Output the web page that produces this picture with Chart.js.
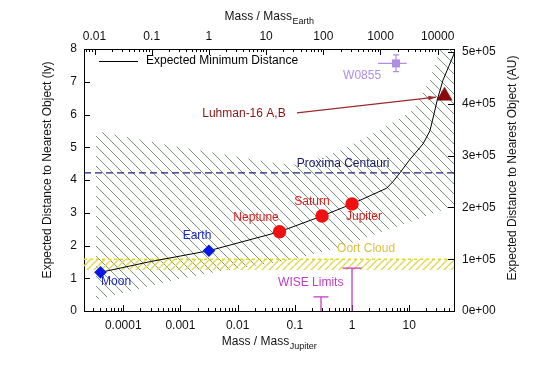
<!DOCTYPE html>
<html><head><meta charset="utf-8">
<script src="https://cdn.jsdelivr.net/npm/chart.js@4/dist/chart.umd.min.js"></script>
<style>html,body{margin:0;padding:0;background:#fff}#wrap{width:540px;height:376px}</style>
</head><body><div id="wrap"><canvas id="c" width="540" height="376"></canvas></div>
<script>
// ---------- data ----------
const LY_TO_AU = 63241.1;
const EARTH_PER_JUPITER = 317.8;
const X_MIN = 2.06e-5, X_MAX = 60.7;
const Y_MAX = 8;

const bottomTickValues = [1e-4, 1e-3, 1e-2, 0.1, 1, 10];
const bottomTickLabels = ['0.0001', '0.001', '0.01', '0.1', '1', '10'];
const topTickValues = [0.01, 0.1, 1, 10, 100, 1000, 10000];
const topTickLabels = ['0.01', '0.1', '1', '10', '100', '1000', '10000'];
const leftTickValues = [0, 1, 2, 3, 4, 5, 6, 7, 8];
const rightTickValues = [0, 1e5, 2e5, 3e5, 4e5, 5e5];
const rightTickLabels = ['0e+00', '1e+05', '2e+05', '3e+05', '4e+05', '5e+05'];

// Expected minimum distance curve (mass in M_Jupiter, distance in ly)
const curveMass = [4.0e-5, 3e-4, 3.15e-3, 0.054, 0.299, 1.0, 4.04, 5.2, 6.9, 10, 17.4, 23, 27, 31, 39, 50, 60.7];
const curveDist = [1.18, 1.51, 1.84, 2.42, 2.90, 3.27, 3.75, 3.95, 4.22, 4.6, 5.1, 5.5, 6.0, 6.45, 7.05, 7.5, 7.85];

// hatched uncertainty band
const bandMass  = [3.34e-5, 7.8e-4, 4.4e-3, 0.0435, 0.123, 0.62, 3.1, 11.7, 23, 34.6, 60.7];
const bandUpper = [5.5, 5.03, 4.82, 4.52, 4.46, 4.9, 5.53, 6.14, 7.05, 8.0, 8.5];
const bandLower = [0.34, 0.95, 1.2, 1.47, 1.62, 1.95, 2.4, 2.75, 2.95, 3.05, 3.24];

// Oort cloud band and line (ly)
const oortLine = 1.58;
const oortBand = [1.25, 1.58];
// Proxima Centauri (ly)
const proximaDist = 4.22;

// objects
const moonEarthNames = ['Moon', 'Earth'];
const moonEarthMass = [4.0e-5, 3.15e-3];
const moonEarthDist = [1.18, 1.84];
const planetNames = ['Neptune', 'Saturn', 'Jupiter'];
const planetMass = [0.054, 0.299, 1.0];
const planetDist = [2.42, 2.90, 3.27];
const luhmanMass = [41.5];
const luhmanDist = [6.57];
const w0855Mass = [5.88], w0855MassLo = [2.85], w0855MassHi = [9.04];
const w0855Dist = [7.56], w0855DistLo = [7.31], w0855DistHi = [7.82];
const wiseMass = [0.287, 1.0];
const wiseDist = [0.43, 1.31];
const arrowFrom = [0.109, 6.05];
const arrowTo = [29.4, 6.53];

// text labels (anchor in data units)
const labelTexts = ['Moon', 'Earth', 'Neptune', 'Saturn', 'Jupiter', 'Proxima Centauri', 'Oort Cloud', 'WISE Limits', 'W0855', 'Luhman-16 A,B'];
const labelMass  = [7.5e-5, 1.95e-3, 0.021, 0.2, 1.62, 0.70, 1.76, 0.19, 1.5, 0.0129];
const labelDist  = [0.885, 2.29, 2.84, 3.33, 2.87, 4.49, 1.89, 0.85, 7.2, 6.02];
const labelColors = ['#1a28c8', '#1a28c8', '#dd1c1c', '#dd1c1c', '#dd1c1c', '#1a1a6e', '#dcc048', '#c43cc4', '#b08ee6', '#8b1414'];

// ---------- chart ----------
const FONT = "'Liberation Sans', Arial, Helvetica, sans-serif";
const canvas = document.getElementById('c');
const ctx0 = canvas.getContext('2d');

function makeHatch(color, size, lw, dir) {
  const c = document.createElement('canvas');
  c.width = size; c.height = size;
  const g = c.getContext('2d');
  g.strokeStyle = color; g.lineWidth = lw; g.beginPath();
  for (const k of [-size, 0, size]) {
    if (dir > 0) { g.moveTo(k, 0); g.lineTo(k + size, size); }
    else { g.moveTo(k + size, 0); g.lineTo(k, size); }
  }
  g.stroke();
  return ctx0.createPattern(c, 'repeat');
}
const greenHatch = makeHatch('#6a8a6c', 10, 0.9, 1);
const yellowHatch = makeHatch('#e2d84e', 7, 1.4, -1);

const xy = (xs, ys) => xs.map((m, i) => ({x: m, y: ys[i]}));

const overlay = {
  id: 'overlay',
  afterDatasetsDraw(chart) {
    const {ctx, chartArea: a, scales} = chart;
    const X = scales.x, Y = scales.y, X2 = scales.x2, Y2 = scales.y2;
    ctx.save();
    // inward ticks
    ctx.strokeStyle = '#000'; ctx.lineWidth = 1;
    ctx.beginPath();
    for (let d = -5; d <= 1; d++) for (let k = 1; k <= 9; k++) {
      const v = k * Math.pow(10, d);
      if (v < X_MIN || v > X_MAX) continue;
      const px = Math.round(X.getPixelForValue(v)) + 0.5;
      const len = k === 1 ? 6 : 3;
      ctx.moveTo(px, a.bottom); ctx.lineTo(px, a.bottom - len);
    }
    for (let d = -3; d <= 4; d++) for (let k = 1; k <= 9; k++) {
      const v = k * Math.pow(10, d);
      if (v < X2.min || v > X2.max) continue;
      const px = Math.round(X2.getPixelForValue(v)) + 0.5;
      const len = k === 1 ? 6 : 3;
      ctx.moveTo(px, a.top); ctx.lineTo(px, a.top + len);
    }
    for (const v of leftTickValues) {
      const py = Math.round(Y.getPixelForValue(v)) + 0.5;
      ctx.moveTo(a.left, py); ctx.lineTo(a.left + 6, py);
    }
    for (const v of rightTickValues) {
      const py = Math.round(Y2.getPixelForValue(v)) + 0.5;
      ctx.moveTo(a.right, py); ctx.lineTo(a.right - 6, py);
    }
    ctx.stroke();

    // W0855 error bars
    ctx.strokeStyle = '#b08ee6'; ctx.lineWidth = 1.2;
    ctx.beginPath();
    for (let i = 0; i < w0855Mass.length; i++) {
      const cx = X.getPixelForValue(w0855Mass[i]), cy = Y.getPixelForValue(w0855Dist[i]);
      const x0 = X.getPixelForValue(w0855MassLo[i]), x1 = X.getPixelForValue(w0855MassHi[i]);
      const y0 = Y.getPixelForValue(w0855DistLo[i]), y1 = Y.getPixelForValue(w0855DistHi[i]);
      ctx.moveTo(x0, cy); ctx.lineTo(x1, cy);
      ctx.moveTo(cx, y0); ctx.lineTo(cx, y1);
      ctx.moveTo(cx - 3, y0); ctx.lineTo(cx + 3, y0);
      ctx.moveTo(cx - 3, y1); ctx.lineTo(cx + 3, y1);
    }
    ctx.stroke();

    // WISE limits
    ctx.strokeStyle = '#c43cc4'; ctx.lineWidth = 1.3;
    ctx.beginPath();
    const capW = [7.5, 9.5];
    for (let i = 0; i < wiseMass.length; i++) {
      const px = X.getPixelForValue(wiseMass[i]);
      const top = Y.getPixelForValue(wiseDist[i]);
      ctx.moveTo(px, a.bottom); ctx.lineTo(px, top);
      ctx.moveTo(px - capW[i], top); ctx.lineTo(px + capW[i], top);
    }
    ctx.stroke();

    // Luhman arrow
    const ax0 = X.getPixelForValue(arrowFrom[0]), ay0 = Y.getPixelForValue(arrowFrom[1]);
    const ax1 = X.getPixelForValue(arrowTo[0]), ay1 = Y.getPixelForValue(arrowTo[1]);
    ctx.strokeStyle = '#9b2a2a'; ctx.fillStyle = '#9b2a2a'; ctx.lineWidth = 1.2;
    ctx.beginPath(); ctx.moveTo(ax0, ay0); ctx.lineTo(ax1, ay1); ctx.stroke();
    const ang = Math.atan2(ay1 - ay0, ax1 - ax0);
    ctx.beginPath();
    ctx.moveTo(ax1, ay1);
    ctx.lineTo(ax1 - 8 * Math.cos(ang - 0.3), ay1 - 8 * Math.sin(ang - 0.3));
    ctx.lineTo(ax1 - 8 * Math.cos(ang + 0.3), ay1 - 8 * Math.sin(ang + 0.3));
    ctx.closePath(); ctx.fill();

    // labels
    ctx.font = '12px ' + FONT;
    ctx.textAlign = 'center'; ctx.textBaseline = 'middle';
    for (let i = 0; i < labelTexts.length; i++) {
      ctx.fillStyle = labelColors[i];
      ctx.fillText(labelTexts[i], X.getPixelForValue(labelMass[i]), Y.getPixelForValue(labelDist[i]));
    }

    // legend
    ctx.strokeStyle = '#000'; ctx.lineWidth = 1;
    ctx.beginPath(); ctx.moveTo(a.left + 15, a.top + 12.5); ctx.lineTo(a.left + 54, a.top + 12.5); ctx.stroke();
    ctx.fillStyle = '#000'; ctx.textAlign = 'left';
    ctx.fillText('Expected Minimum Distance', a.left + 62, a.top + 12);

    // axis titles
    const cxm = (a.left + a.right) / 2;
    function subTitle(main, sub, cx, cy) {
      ctx.font = '12px ' + FONT;
      const w1 = ctx.measureText(main).width;
      ctx.font = '9px ' + FONT;
      const w2 = ctx.measureText(sub).width;
      const sx = cx - (w1 + w2) / 2;
      ctx.textAlign = 'left'; ctx.textBaseline = 'middle'; ctx.fillStyle = '#111';
      ctx.font = '12px ' + FONT; ctx.fillText(main, sx, cy);
      ctx.font = '9px ' + FONT; ctx.fillText(sub, sx + w1 + 0.5, cy + 5);
    }
    subTitle('Mass / Mass', 'Jupiter', cxm, a.bottom + 31);
    subTitle('Mass / Mass', 'Earth', cxm, a.top - 32);

    ctx.font = '12px ' + FONT; ctx.fillStyle = '#111'; ctx.textAlign = 'center'; ctx.textBaseline = 'middle';
    ctx.save(); ctx.translate(48, 170); ctx.rotate(-Math.PI / 2);
    ctx.fillText('Expected Distance to Nearest Object (ly)', 0, 0); ctx.restore();
    ctx.save(); ctx.translate(513, 168); ctx.rotate(-Math.PI / 2);
    ctx.fillText('Expected Distance to Nearest Object (AU)', 0, 0); ctx.restore();

    ctx.restore();
  }
};

const tickFont = {family: FONT, size: 12};
const noGrid = {display: false, drawTicks: false};
const border = {display: true, color: '#000', width: 1};

new Chart(canvas, {
  type: 'line',
  data: {
    datasets: [
      {data: xy(bandMass, bandUpper), xAxisID: 'x', yAxisID: 'y', borderColor: 'transparent', borderWidth: 0, pointRadius: 0, fill: '+1', backgroundColor: greenHatch, order: 10},
      {data: xy(bandMass, bandLower), xAxisID: 'x', yAxisID: 'y', borderColor: 'transparent', borderWidth: 0, pointRadius: 0, fill: false, order: 10},
      {data: xy([X_MIN, X_MAX], [oortBand[1], oortBand[1]]), xAxisID: 'x', yAxisID: 'y', borderColor: 'transparent', borderWidth: 0, pointRadius: 0, fill: '+1', backgroundColor: yellowHatch, order: 9},
      {data: xy([X_MIN, X_MAX], [oortBand[0], oortBand[0]]), xAxisID: 'x', yAxisID: 'y', borderColor: 'transparent', borderWidth: 0, pointRadius: 0, fill: false, order: 9},
      {data: xy([X_MIN, X_MAX], [oortLine, oortLine]), xAxisID: 'x', yAxisID: 'y', borderColor: '#e2d436', borderWidth: 1.5, borderDash: [3, 3], pointRadius: 0, fill: false, order: 8},
      {data: xy([X_MIN, X_MAX], [proximaDist, proximaDist]), xAxisID: 'x', yAxisID: 'y', borderColor: '#22227a', borderWidth: 1.2, borderDash: [7, 4], pointRadius: 0, fill: false, order: 7},
      {data: xy(curveMass, curveDist), xAxisID: 'x', yAxisID: 'y', borderColor: '#000', borderWidth: 1, pointRadius: 0, fill: false, tension: 0, order: 5},
      {data: xy(moonEarthMass, moonEarthDist), xAxisID: 'x', yAxisID: 'y', showLine: false, pointStyle: 'rectRot', pointRadius: 6.3, backgroundColor: '#0a18e6', borderColor: '#0a18e6', borderWidth: 0, order: 2},
      {data: xy(planetMass, planetDist), xAxisID: 'x', yAxisID: 'y', showLine: false, pointStyle: 'circle', pointRadius: 6.7, backgroundColor: '#f01010', borderColor: '#f01010', borderWidth: 0, order: 2},
      {data: xy(luhmanMass, luhmanDist), xAxisID: 'x', yAxisID: 'y', showLine: false, pointStyle: 'triangle', pointRadius: 8.7, backgroundColor: '#8c0a0a', borderColor: '#6a0000', borderWidth: 0.5, order: 2},
      {data: xy(w0855Mass, w0855Dist), xAxisID: 'x', yAxisID: 'y', showLine: false, pointStyle: 'rect', pointRadius: 5.7, backgroundColor: '#b08ee6', borderColor: '#b08ee6', borderWidth: 0, order: 1}
    ]
  },
  options: {
    responsive: false, animation: false,
    layout: {padding: 0},
    plugins: {legend: {display: false}, tooltip: {enabled: false}},
    scales: {
      x: {type: 'logarithmic', position: 'bottom', min: X_MIN, max: X_MAX,
          afterBuildTicks: s => { s.ticks = bottomTickValues.map(v => ({value: v})); },
          ticks: {callback: (v, i) => bottomTickLabels[i], autoSkip: false, maxRotation: 0, padding: 7, font: tickFont, color: '#111'},
          grid: noGrid, border: border, afterFit: s => { s.height = 65; }},
      x2: {type: 'logarithmic', position: 'top', min: X_MIN * EARTH_PER_JUPITER, max: X_MAX * EARTH_PER_JUPITER,
          afterBuildTicks: s => { s.ticks = topTickValues.map(v => ({value: v})); },
          ticks: {callback: (v, i) => topTickLabels[i], autoSkip: false, maxRotation: 0, padding: 5, font: tickFont, color: '#111'},
          grid: noGrid, border: border, afterFit: s => { s.height = 49; }},
      y: {type: 'linear', position: 'left', min: 0, max: Y_MAX,
          afterBuildTicks: s => { s.ticks = leftTickValues.map(v => ({value: v})); },
          ticks: {callback: v => String(v), autoSkip: false, padding: 7, font: tickFont, color: '#111'},
          grid: noGrid, border: border, afterFit: s => { s.width = 84; }},
      y2: {type: 'linear', position: 'right', min: 0, max: Y_MAX * LY_TO_AU,
          afterBuildTicks: s => { s.ticks = rightTickValues.map(v => ({value: v})); },
          ticks: {callback: (v, i) => rightTickLabels[i], autoSkip: false, padding: 8, font: tickFont, color: '#111'},
          grid: noGrid, border: border, afterFit: s => { s.width = 86; }}
    }
  },
  plugins: [overlay]
});
</script>
</body></html>
